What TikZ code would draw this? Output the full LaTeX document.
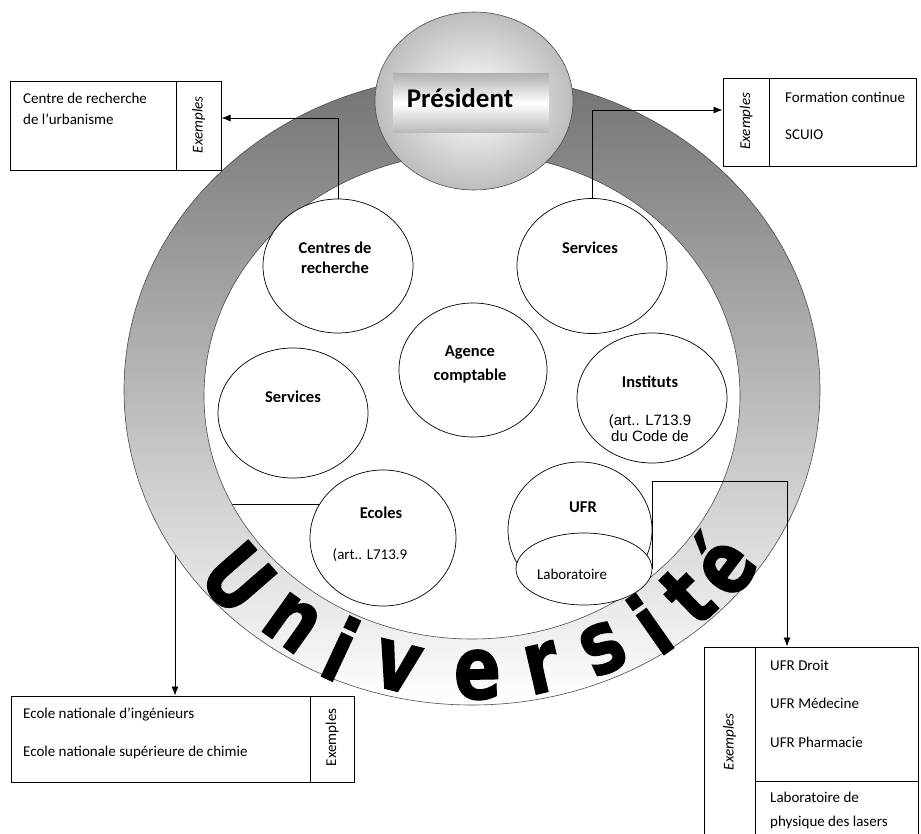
\documentclass[tikz,border=0pt]{standalone}
\usepackage{fontspec}
\setmainfont{Carlito}
\newfontfamily\arialfont{Liberation Sans}
\newfontfamily\heavyfont[BoldFeatures={FakeBold=1.5}]{DejaVu Sans}
\usepackage{tikz}
\usetikzlibrary{shapes.geometric,backgrounds,arrows.meta,calc}
\tikzstyle{unit}=[draw, ellipse, fill=white, inner sep=0pt, line width=0.7pt]
\tikzstyle{box}=[draw, rectangle, inner sep=0pt, line width=1pt, font=\fontsize{15}{18}\selectfont]
\tikzstyle{conn}=[line width=0.8pt, -{Latex[length=9pt,width=7pt]}]
\tikzstyle{lbl}=[font=\fontsize{16.5}{20}\selectfont\bfseries, align=center]
\tikzstyle{txt}=[font=\fontsize{15}{18}\selectfont, anchor=west, inner sep=0pt]
\newcommand{\excol}[5]{
 \node[box, minimum width=#3, minimum height=#4] (#1) at #2 {\rotatebox{90}{#5 Exemples}};
}

\begin{document}
\begin{tikzpicture}[x=1pt, y=-1pt]
 \useasboundingbox (0,0) rectangle (921,834);
%
 \node[draw=black!70, ellipse, minimum width=198pt, minimum height=178pt, inner color=white, outer color=black!26, line width=0.6pt] (pres) at (474,101) {};
 \node[minimum width=156pt, minimum height=59pt, inner sep=0pt, top color=black!30, bottom color=black!28, middle color=white] (presbar) at (471,103.5) {};
 \node[font=\fontsize{27}{30}\selectfont\bfseries] (prestxt) at (460,98) {Président};
%
 \node[unit, minimum width=150pt, minimum height=134pt] (cdr) at (338,266) {};
 \node[unit, minimum width=150pt, minimum height=135pt] (servb) at (592,266) {};
 \node[unit, minimum width=148pt, minimum height=134pt] (agence) at (473,370) {};
 \node[unit, minimum width=150pt, minimum height=130pt] (serva) at (293,413) {};
 \node[unit, minimum width=150pt, minimum height=130pt] (inst) at (652,398) {};
 \node[unit, minimum width=146pt, minimum height=136pt] (ecoles) at (383,538) {};
 \node[unit, minimum width=144pt, minimum height=136pt] (ufr) at (580,530) {};
 \node[unit, minimum width=136pt, minimum height=72pt] (labo) at (584,569) {};
%
 \node[lbl] (cdrtxt) at (335,258) {Centres de\\recherche};
 \node[lbl] (servbtxt) at (590,248) {Services};
 \node[lbl] (agtxt) at (470,364) {Agence\\[4pt]comptable};
 \node[lbl] (servatxt) at (293,397) {Services};
 \node[lbl] (insttxt) at (650,382) {Instituts};
 \node[font=\arialfont\fontsize{15}{16}\selectfont, align=center] (instref) at (650,428) {(art.. L713.9\\du Code de};
 \node[lbl] (ectxt) at (381,513) {Ecoles};
 \node[font=\fontsize{15}{18}\selectfont] (ecref) at (370,555) {(art.. L713.9};
 \node[lbl] (ufrtxt) at (583,507) {UFR};
 \node[font=\fontsize{15}{18}\selectfont] (labotxt) at (572,574) {Laboratoire};
%
 \node[box, minimum width=166pt, minimum height=89pt] (crbox) at (93,126.5) {};
 \excol{crex}{(198.5,126.5)}{45pt}{89pt}{\itshape}
 \node[txt] (cr1) at (23,98) {Centre de recherche};
 \node[txt] (cr2) at (23,119) {de l’urbanisme};
%
 \node[box, minimum width=147pt, minimum height=88pt] (fcbox) at (842.5,123) {};
 \excol{fcex}{(746,123)}{46pt}{88pt}{\itshape}
 \node[txt] (fc1) at (785,97) {Formation continue};
 \node[txt] (fc2) at (785,135) {SCUIO};
%
 \node[box, minimum width=299pt, minimum height=86pt] (ecbox) at (160.5,739) {};
 \excol{ecex}{(332,739)}{44pt}{86pt}{}
 \node[txt] (ec1) at (23,714) {Ecole nationale d’ingénieurs};
 \node[txt] (ec2) at (23,752) {Ecole nationale supérieure de chimie};
%
 \excol{ufrex}{(729.5,743.5)}{51pt}{193pt}{\itshape}
 \node[box, minimum width=163pt, minimum height=134pt] (ufrbox) at (836.5,714) {};
 \node[box, minimum width=163pt, minimum height=59pt] (labbox) at (836.5,810.5) {};
 \node[txt] (ufr1) at (770,665) {UFR Droit};
 \node[txt] (ufr2) at (770,703) {UFR Médecine};
 \node[txt] (ufr3) at (770,742) {UFR Pharmacie};
 \node[txt] (lab1) at (770,797) {Laboratoire de};
 \node[txt] (lab2) at (770,822) {physique des lasers};
%
 \draw[conn] (cdr.north) |- ([yshift=8.5pt]crex.east);
 \draw[conn] (servb.north) |- ([yshift=13pt]fcex.west);
 \coordinate (ufrturn) at (787,481);
 \draw[conn] (labo.east) |- (ufrturn) -- (ufrturn |- ufrbox.north);
%
 \foreach \ch/\t in {U/139, n/125.5, i/115, v/104, e/89, r/77, s/65, i/55, t/46, é/37}
  \node[font=\heavyfont\fontsize{70}{70}\selectfont\bfseries, rotate={90-\t}, inner sep=0pt] (let\t) at ({472+310*cos(\t)}, {393+282*sin(\t)}) {\scalebox{1}[1.25]{\ch}};
%
 \begin{scope}[on background layer]
  \draw[conn] (ecoles.152) -| ([xshift=14.5pt]ecbox.north);
  \shade[top color=black!55, bottom color=white, even odd rule, draw=black!70, line width=0.6pt]
   (472,390) ellipse [x radius=348pt, y radius=315pt]
   (472,396) ellipse [x radius=268pt, y radius=243pt];
 \end{scope}
\end{tikzpicture}
\end{document}
